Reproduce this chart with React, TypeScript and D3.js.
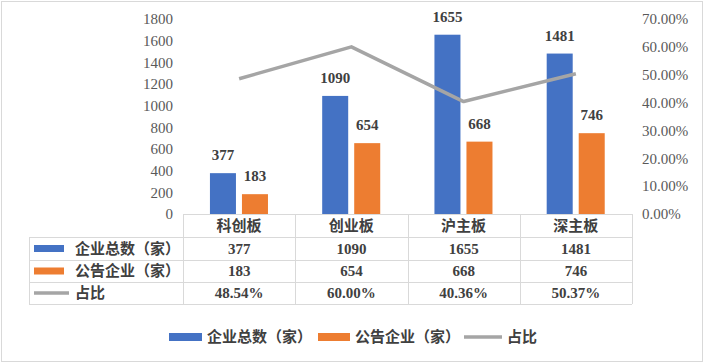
import React from "react";
import * as d3 from "d3";

const categories = ["科创板", "创业板", "沪主板", "深主板"];
const totalCompanies = [377, 1090, 1655, 1481];
const announcedCompanies = [183, 654, 668, 746];
const ratioValues = [0.4854, 0.6, 0.4036, 0.5037];
const ratioLabels = ["48.54%", "60.00%", "40.36%", "50.37%"];
const leftTicks = [0, 200, 400, 600, 800, 1000, 1200, 1400, 1600, 1800];
const rightTicks = [0, 0.1, 0.2, 0.3, 0.4, 0.5, 0.6, 0.7];
const seriesNames = ["企业总数（家）", "公告企业（家）", "占比"];
const colors = ["#4472C4", "#ED7D31", "#A5A5A5"];

const W = 704;
const H = 363;
const plotLeft = 183;
const plotRight = 632;
const plotTop = 19;
const plotBottom = 214;
const rowH = [214, 237, 260, 282, 304];
const tableLeft = 29;

const serif = "'Times New Roman', 'Liberation Serif', 'Noto Sans CJK SC', serif";
const cjk = "'Times New Roman', 'Liberation Serif', 'Noto Sans CJK SC', sans-serif";

export default function App() {
  const x = d3.scaleBand<string>().domain(categories).range([plotLeft, plotRight]).padding(0);
  const bw = x.bandwidth();
  const groupStart = bw * 0.24;
  const groupEnd = bw * 0.757;
  const x1 = d3
    .scaleBand<string>()
    .domain(["total", "announced"])
    .range([groupStart, groupEnd])
    .paddingInner(0.1875)
    .paddingOuter(0);
  const yL = d3.scaleLinear().domain([0, 1800]).range([plotBottom, plotTop]);
  const yR = d3.scaleLinear().domain([0, 0.7]).range([plotBottom, plotTop]);
  const fmtPct = d3.format(".2%");

  const line = d3
    .line<number>()
    .x((_, i) => (x(categories[i]) as number) + bw / 2)
    .y((d) => yR(d));

  const grid = "#D9D9D9";
  const dark = "#404040";
  const axisCol = "#595959";

  const rows = [
    { name: seriesNames[0], vals: totalCompanies.map(String), kind: "bar", color: colors[0] },
    { name: seriesNames[1], vals: announcedCompanies.map(String), kind: "bar", color: colors[1] },
    { name: seriesNames[2], vals: ratioLabels, kind: "line", color: colors[2] },
  ];

  const legendItems = [
    { name: seriesNames[0], color: colors[0], kind: "bar", x: 169, w: 33, tx: 207 },
    { name: seriesNames[1], color: colors[1], kind: "bar", x: 318, w: 32, tx: 355 },
    { name: seriesNames[2], color: colors[2], kind: "line", x: 464, w: 38, tx: 507 },
  ];

  return (
    <svg
      width={W}
      height={H}
      style={{ position: "absolute", left: 0, top: 0, background: "#fff" }}
    >
      <rect x={1.5} y={1.5} width={W - 3} height={H - 3} fill="#fff" stroke={grid} />

      {/* left axis */}
      {leftTicks.map((t) => (
        <text
          key={"l" + t}
          x={173}
          y={yL(t)}
          dy="0.35em"
          textAnchor="end"
          fontFamily={serif}
          fontSize={15}
          fill={axisCol}
        >
          {t}
        </text>
      ))}
      {/* right axis */}
      {rightTicks.map((t) => (
        <text
          key={"r" + t}
          x={642}
          y={yR(t)}
          dy="0.35em"
          textAnchor="start"
          fontFamily={serif}
          fontSize={15}
          fill={axisCol}
        >
          {fmtPct(t)}
        </text>
      ))}

      {/* bars */}
      {categories.map((c, i) => {
        const bx = x(c) as number;
        return (
          <g key={c}>
            {[
              { k: "total", v: totalCompanies[i], col: colors[0] },
              { k: "announced", v: announcedCompanies[i], col: colors[1] },
            ].map((b) => (
              <g key={b.k}>
                <rect
                  x={bx + (x1(b.k) as number)}
                  y={yL(b.v)}
                  width={x1.bandwidth()}
                  height={plotBottom - yL(b.v)}
                  fill={b.col}
                />
                <text
                  x={bx + (x1(b.k) as number) + x1.bandwidth() / 2}
                  y={yL(b.v) - 13}
                  textAnchor="middle"
                  fontFamily={serif}
                  fontWeight="bold"
                  fontSize={15}
                  fill={dark}
                >
                  {b.v}
                </text>
              </g>
            ))}
          </g>
        );
      })}

      {/* line */}
      <path d={line(ratioValues) || ""} fill="none" stroke={colors[2]} strokeWidth={3.5} strokeLinejoin="round" />

      {/* table grid */}
      <g stroke={grid} strokeWidth={1}>
        <line x1={plotLeft} x2={plotRight} y1={rowH[0] + 0.5} y2={rowH[0] + 0.5} />
        {rowH.slice(1).map((r) => (
          <line key={r} x1={tableLeft} x2={plotRight} y1={r + 0.5} y2={r + 0.5} />
        ))}
        <line x1={tableLeft + 0.5} x2={tableLeft + 0.5} y1={rowH[1]} y2={rowH[4]} />
        {categories.map((c) => (
          <line
            key={c}
            x1={Math.round(x(c) as number) + 0.5}
            x2={Math.round(x(c) as number) + 0.5}
            y1={rowH[0]}
            y2={rowH[4]}
          />
        ))}
        <line x1={plotRight + 0.5} x2={plotRight + 0.5} y1={rowH[0]} y2={rowH[4]} />
      </g>

      {/* header categories */}
      {categories.map((c) => (
        <text
          key={c}
          x={(x(c) as number) + bw / 2}
          y={(rowH[0] + rowH[1]) / 2}
          dy="0.35em"
          textAnchor="middle"
          fontFamily={cjk}
          fontWeight="bold"
          fontSize={15}
          fill={dark}
        >
          {c}
        </text>
      ))}

      {/* rows */}
      {rows.map((r, ri) => {
        const cy = (rowH[ri + 1] + rowH[ri + 2]) / 2;
        return (
          <g key={r.name}>
            {r.kind === "bar" ? (
              <rect x={34} y={cy - 3.5} width={30} height={7} fill={r.color} />
            ) : (
              <line x1={34} x2={69} y1={cy} y2={cy} stroke={r.color} strokeWidth={3.5} />
            )}
            <text
              x={r.kind === "bar" ? 75 : 75}
              y={cy}
              dy="0.35em"
              fontFamily={cjk}
              fontWeight="bold"
              fontSize={15}
              fill={dark}
            >
              {r.name}
            </text>
            {r.vals.map((v, ci) => (
              <text
                key={ci}
                x={(x(categories[ci]) as number) + bw / 2}
                y={cy}
                dy="0.35em"
                textAnchor="middle"
                fontFamily={serif}
                fontWeight="bold"
                fontSize={15}
                fill={dark}
              >
                {v}
              </text>
            ))}
          </g>
        );
      })}

      {/* bottom legend */}
      {legendItems.map((l) => (
        <g key={l.name}>
          {l.kind === "bar" ? (
            <rect x={l.x} y={333} width={l.w} height={8} fill={l.color} />
          ) : (
            <line x1={l.x} x2={l.x + l.w} y1={337} y2={337} stroke={l.color} strokeWidth={3.5} />
          )}
          <text x={l.tx} y={337} dy="0.35em" fontFamily={cjk} fontWeight="bold" fontSize={15} fill={dark}>
            {l.name}
          </text>
        </g>
      ))}
    </svg>
  );
}
